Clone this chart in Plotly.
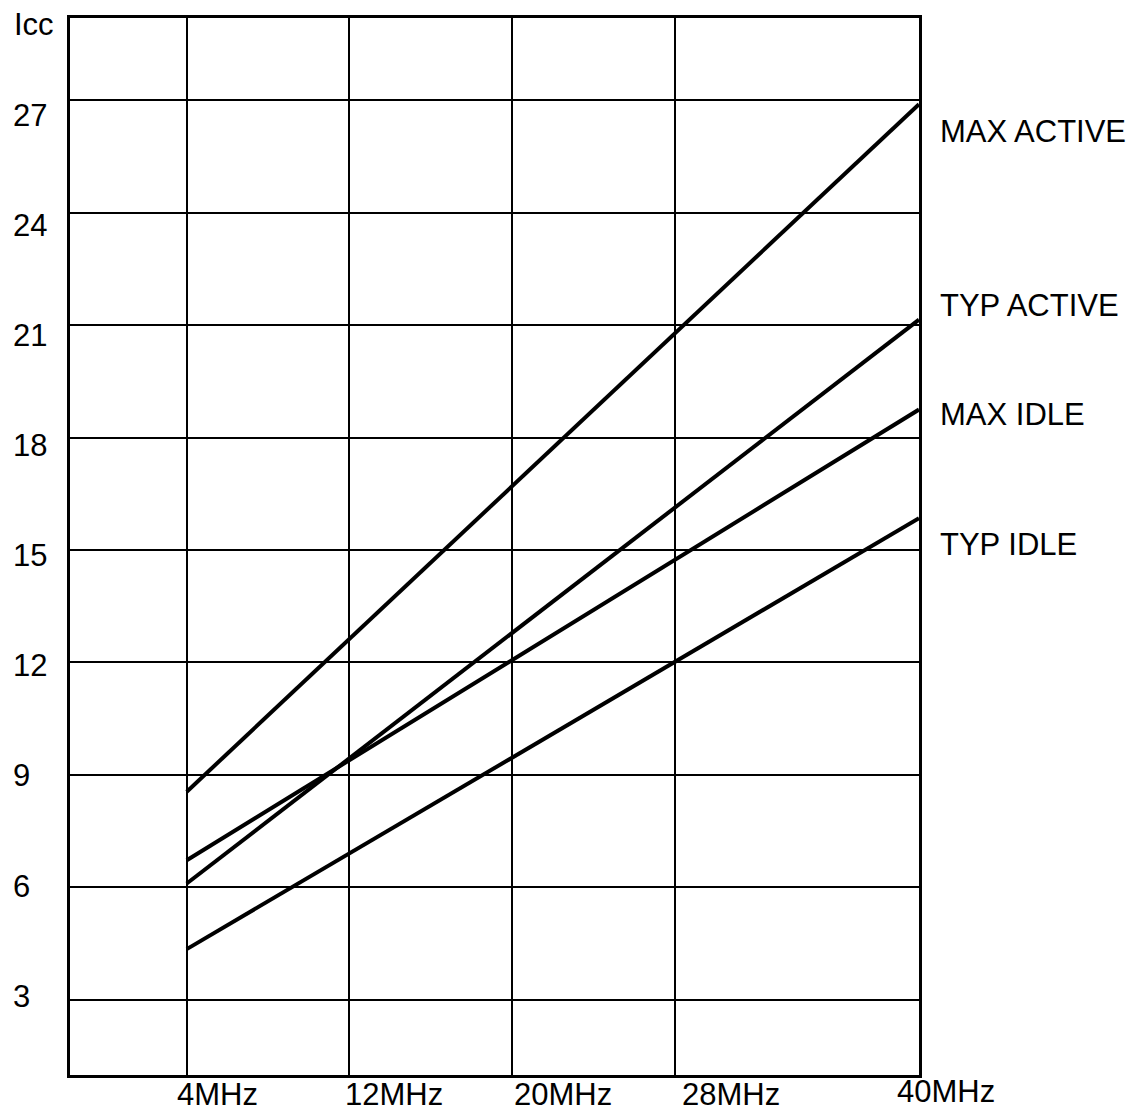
import plotly.graph_objects as go

# Supply current (Icc) vs clock frequency.
FREQ_MHZ = [4, 40]
MAX_ACTIVE = [8.55, 26.9]
TYP_ACTIVE = [6.1, 21.15]
MAX_IDLE = [6.72, 18.75]
TYP_IDLE = [4.35, 15.85]

SERIES_NAMES = ["MAX ACTIVE", "TYP ACTIVE", "MAX IDLE", "TYP IDLE"]
SERIES_VALUES = [MAX_ACTIVE, TYP_ACTIVE, MAX_IDLE, TYP_IDLE]

X_TICKS = [4, 12, 20, 28]
X_TICK_LABELS = ["4MHz", "12MHz", "20MHz", "28MHz"]
X_END_LABEL = "40MHz"
Y_TICKS = [3, 6, 9, 12, 15, 18, 21, 24, 27]
Y_TITLE = "Icc"

FONT = dict(family="Liberation Sans, Arial, sans-serif", size=31, color="black")

# Where the series names sit on the right (y in data units).
NAME_Y = {"MAX ACTIVE": 26.17, "TYP ACTIVE": 21.54, "MAX IDLE": 18.63, "TYP IDLE": 15.15}

fig = go.Figure()

for name, vals in zip(SERIES_NAMES, SERIES_VALUES):
    fig.add_trace(
        go.Scatter(
            name=name,
            x=FREQ_MHZ,
            y=vals,
            mode="lines",
            line=dict(color="black", width=4),
            showlegend=False,
        )
    )

annotations = []

# Series names, right of the frame.
for name in SERIES_NAMES:
    annotations.append(
        dict(text=name, xref="paper", x=1, xshift=19, xanchor="left",
             yref="y", y=NAME_Y[name], yanchor="middle", showarrow=False, font=FONT)
    )

# Y tick labels, left-aligned at the page edge (their own label scale via y2).
for v in Y_TICKS:
    annotations.append(
        dict(text=str(v), xref="paper", x=0, xshift=-59, xanchor="left",
             yref="y2", y=v, yanchor="middle", showarrow=False, font=FONT)
    )

# X tick labels under the frame (label scale via x2).
for v, lab in zip(X_TICKS, X_TICK_LABELS):
    annotations.append(
        dict(text=lab, xref="x2", x=v, xanchor="left",
             yref="paper", y=0, yshift=-19, yanchor="middle", showarrow=False, font=FONT)
    )
annotations.append(
    dict(text=X_END_LABEL, xref="paper", x=1, xshift=-24, xanchor="left",
         yref="paper", y=0, yshift=-16, yanchor="middle", showarrow=False, font=FONT)
)

annotations.append(
    dict(text=Y_TITLE, xref="paper", x=0, xshift=-58, xanchor="left",
         yref="paper", y=1, yshift=-6, yanchor="middle", showarrow=False, font=FONT)
)

axis_common = dict(
    showticklabels=False,
    ticks="",
    zeroline=False,
    showline=True,
    mirror=True,
    linecolor="black",
    linewidth=2.5,
    showgrid=True,
    gridcolor="black",
    gridwidth=2,
)

# The page body adds an 8px margin, so the figure is 8px smaller on each side.
fig.update_layout(
    width=1134,
    height=1105,
    margin=dict(l=62, r=223, t=7, b=38),
    paper_bgcolor="white",
    plot_bgcolor="white",
    xaxis=dict(range=[-1.74, 40], tickvals=X_TICKS, **axis_common),
    yaxis=dict(range=[0.99, 29.2], tickvals=Y_TICKS, **axis_common),
    xaxis2=dict(range=[-0.99, 39.36], overlaying="x", anchor="y", showgrid=False,
                showticklabels=False, zeroline=False, showline=False, ticks=""),
    yaxis2=dict(range=[0.853, 29.65], overlaying="y", anchor="x", showgrid=False,
                showticklabels=False, zeroline=False, showline=False, ticks=""),
    annotations=annotations,
    showlegend=False,
)

fig.write_html("out.html")
